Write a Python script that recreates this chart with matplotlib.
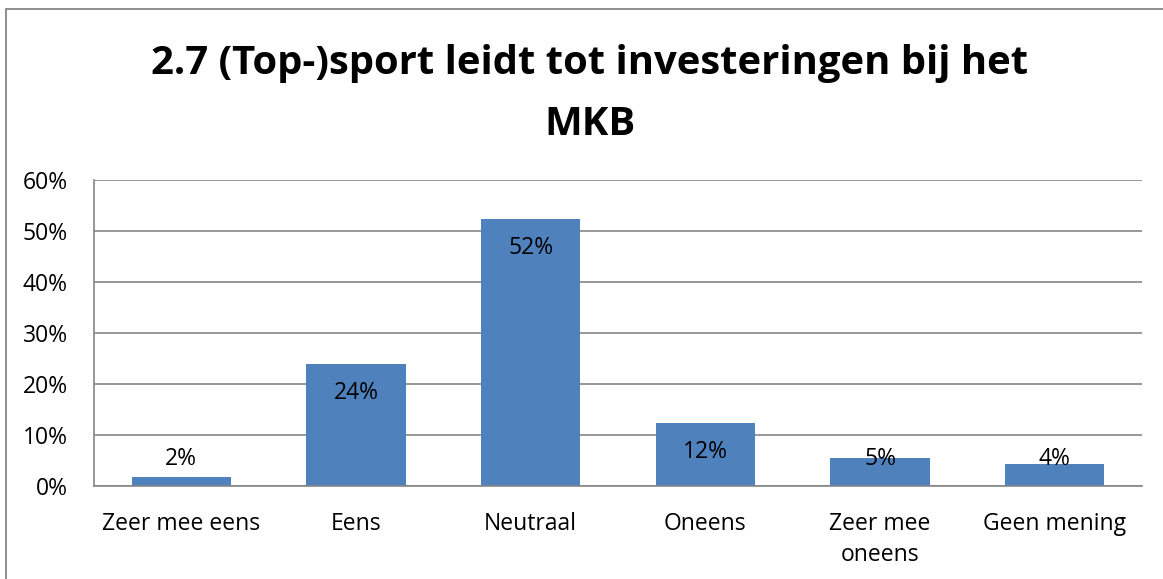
import matplotlib
matplotlib.use("Agg")
import matplotlib.pyplot as plt
from matplotlib.patches import Rectangle
from matplotlib.ticker import PercentFormatter

categories = ["Zeer mee eens", "Eens", "Neutraal", "Oneens", "Zeer mee\noneens", "Geen mening"]
values = [1.8, 23.9, 52.3, 12.4, 5.4, 4.4]
labels = ["2%", "24%", "52%", "12%", "5%", "4%"]
title = "2.7 (Top-)sport leidt tot investeringen bij het\nMKB"

plt.rcParams['font.family'] = ['Open Sans', 'DejaVu Sans']

fig = plt.figure(figsize=(11.63, 5.79), dpi=100)
fig.patch.set_facecolor("white")
W, H = 1163, 579
fig.add_artist(Rectangle((6 / W, -0.1), 1.5, 1 - 9 / H + 0.1, transform=fig.transFigure,
                         fill=False, edgecolor="#868686", linewidth=1.3))

ax = fig.add_axes([94 / W, 1 - 486 / H, (1142 - 94) / W, (486 - 180) / H])
x = range(len(categories))
ax.bar(x, values, width=0.57, color="#4F81BD", zorder=3)
ax.set_ylim(0, 60)
ax.set_xlim(-0.5, len(categories) - 0.5)
ax.set_yticks(range(0, 61, 10))
ax.yaxis.set_major_formatter(PercentFormatter(decimals=0))
ax.set_xticks(list(x))
ax.set_xticklabels(categories, fontsize=16.5, linespacing=1.35)
ax.tick_params(axis="y", labelsize=16.5, length=0, pad=19)
ax.tick_params(axis="x", length=0, pad=19)
ax.grid(axis="y", color="#868686", linewidth=1.2, zorder=0)
for s in ["top", "right"]:
    ax.spines[s].set_visible(False)
for s in ["left", "bottom"]:
    ax.spines[s].set_color("#868686")
    ax.spines[s].set_linewidth(1.2)
    ax.spines[s].set_zorder(4)

for i, (v, lab) in enumerate(zip(values, labels)):
    y = max(v - 5.7, 5.2)
    ax.text(i, y, lab, ha="center", va="center", fontsize=16.5, zorder=5)

fig.text(0.507, 1 - 94 / H, title, ha="center", va="center", fontsize=28.8,
         fontweight="bold", linespacing=1.75)

fig.savefig("out.png", dpi=100, facecolor="white")
